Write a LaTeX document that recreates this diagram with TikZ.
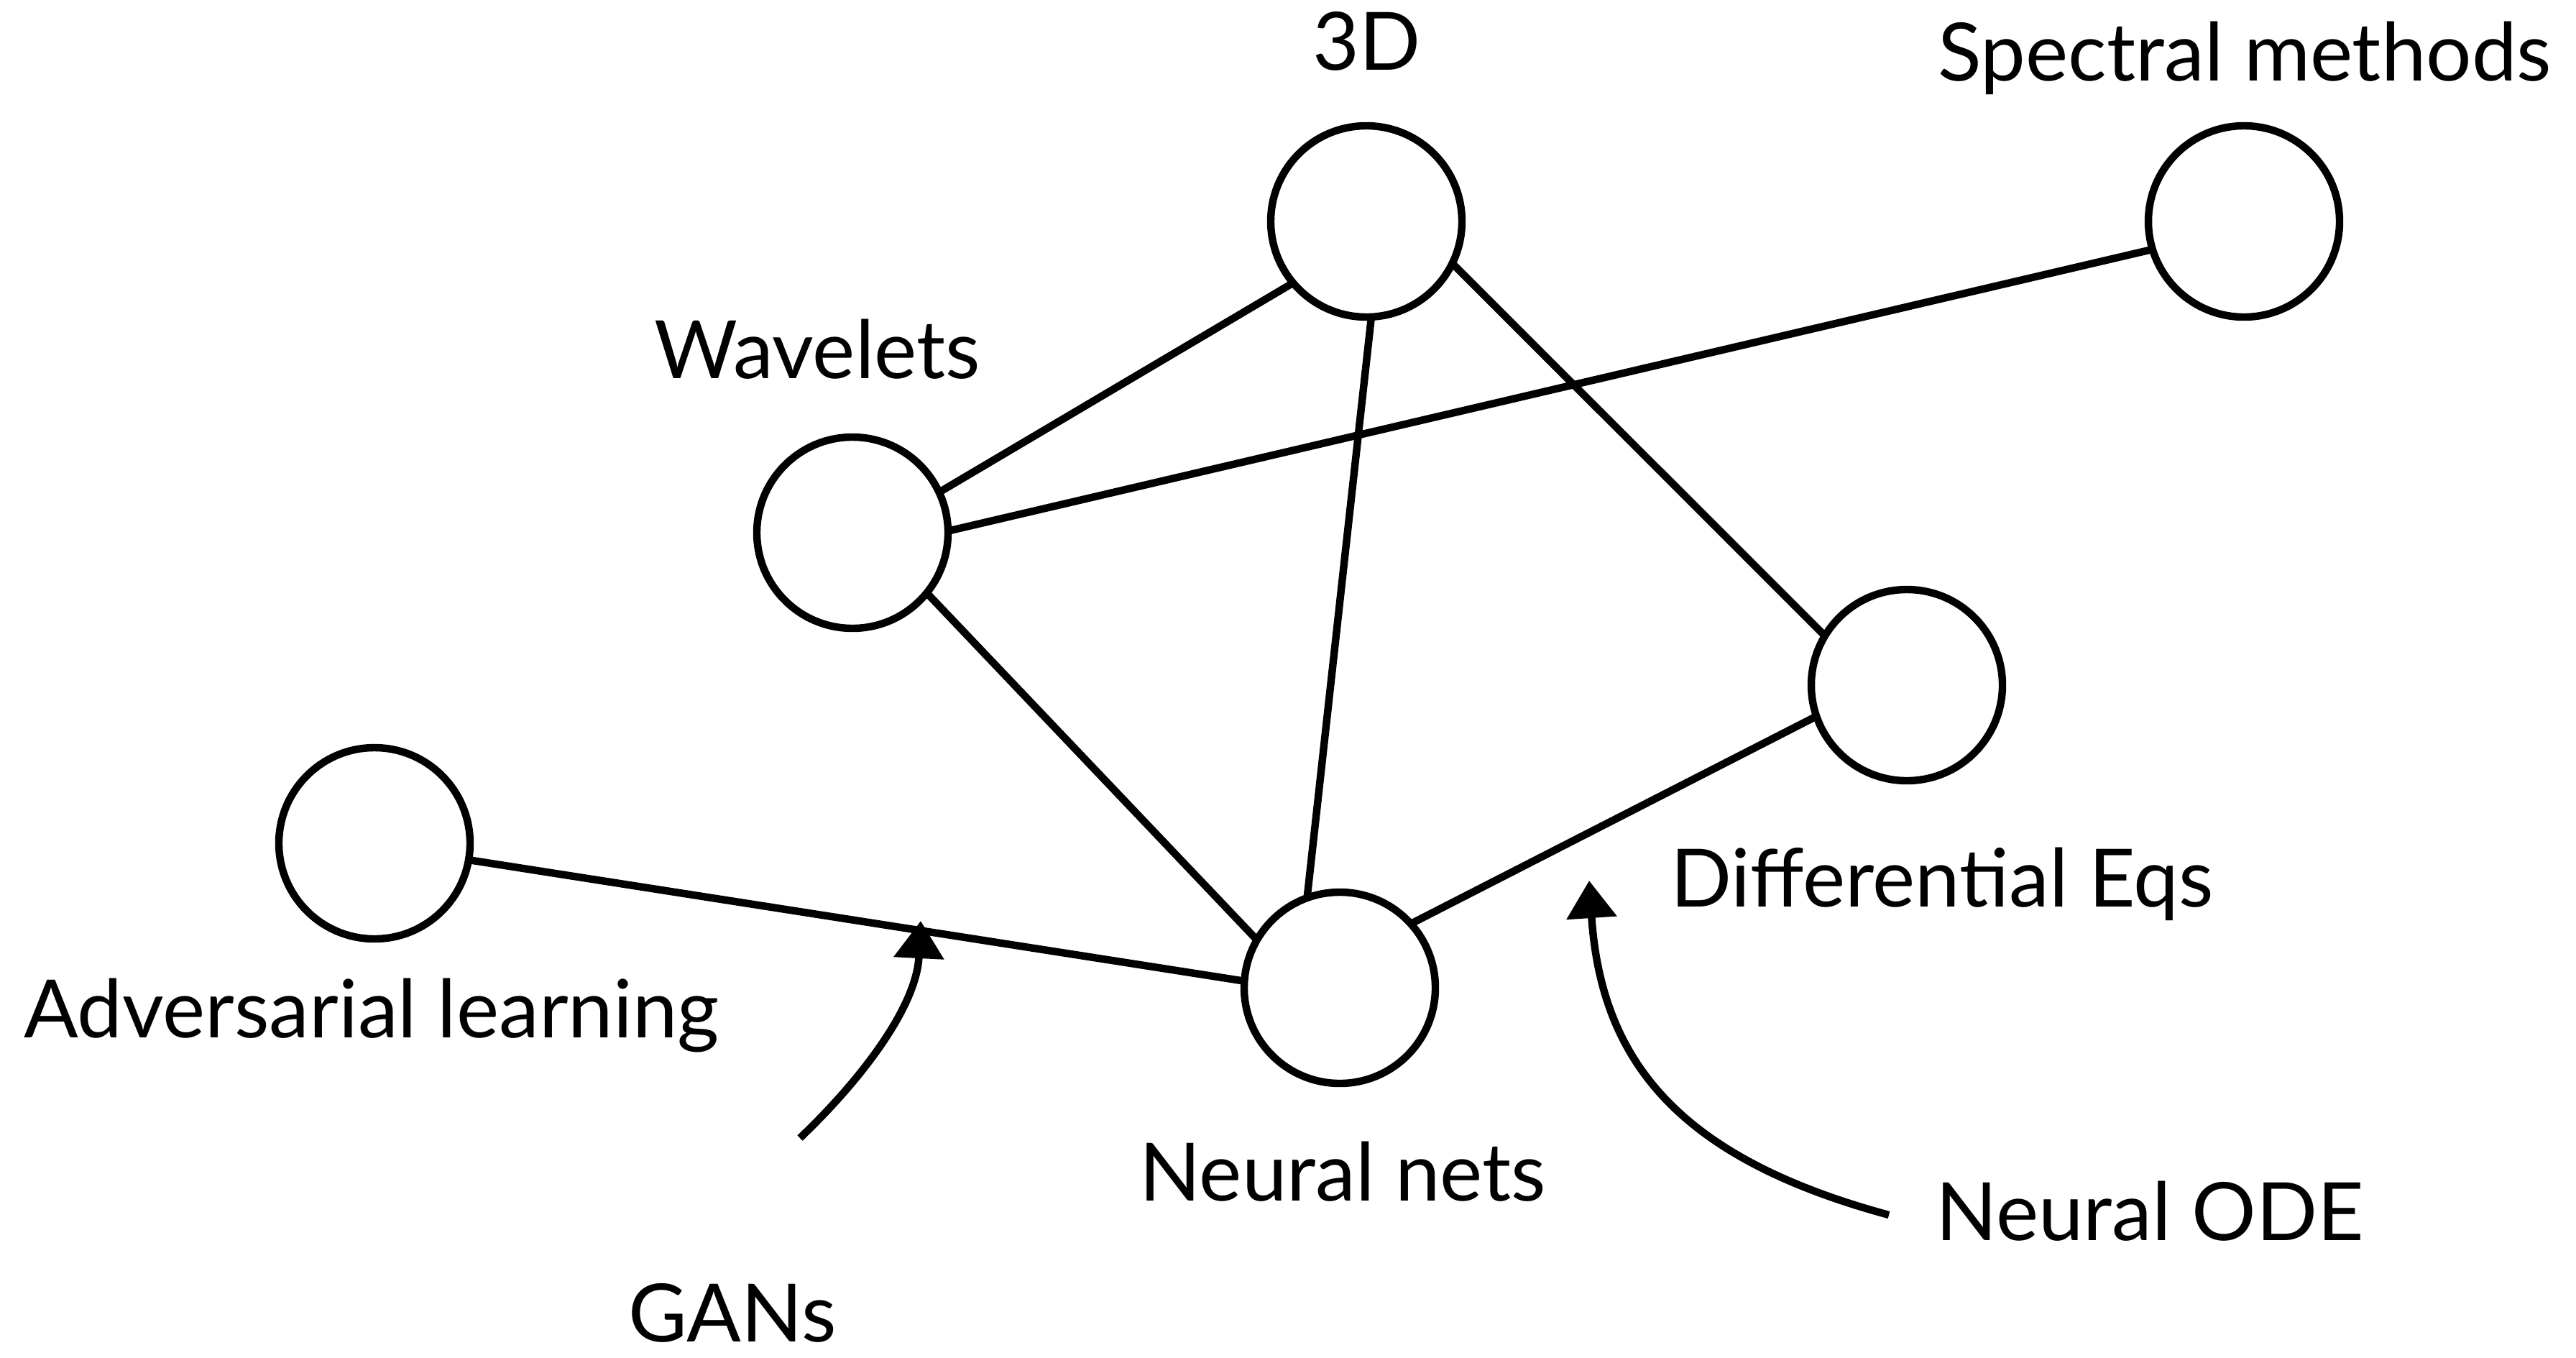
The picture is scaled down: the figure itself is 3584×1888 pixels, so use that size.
\documentclass[tikz,border=0pt]{standalone}
\usepackage{fontspec}
\setmainfont{Lato}
\usetikzlibrary{arrows.meta}
\begin{document}
\begin{tikzpicture}[x=0.25pt,y=-0.25pt,
  topic/.style={circle, draw, line width=2.6pt, minimum size=66.5pt, inner sep=0pt, outer sep=0pt},
  edge/.style={line width=2.6pt},
  lbl/.style={anchor=base, inner sep=0pt, font=\fontsize{28}{34}\selectfont},
  pointer/.style={line width=2.6pt, -{Triangle[length=13pt,width=17pt]}}]
\useasboundingbox (0,0) rectangle (3584,1888);
% circles
\node[topic] (td)   at (1901,308)  {};
\node[topic] (spec) at (3122,308)  {};
\node[topic] (wav)  at (1186,741)  {};
\node[topic] (diff) at (2653,953)  {};
\node[topic] (adv)  at (521,1173)  {};
\node[topic] (nn)   at (1864,1374) {};
% labels
\node[lbl] (ltd)   at (1902,97)   {3D};
\node[lbl] (lspec) at (3123,112)  {Spectral methods};
\node[lbl] (lwav)  at (1137,526)  {Wavelets};
\node[lbl] (ldiff) at (2702,1261) {Differential Eqs};
\node[lbl] (ladv)  at (517,1443)  {Adversarial learning};
\node[lbl] (lnn)   at (1868,1670) {Neural nets};
\node[lbl] (lgan)  at (1019,1866) {GANs};
\node[lbl] (lode)  at (2991,1725) {Neural ODE};
% edges
\draw[edge] (wav.25.1)   -- (td.220.6);
\draw[edge] (wav.1.2)    -- (spec.197.8);
\draw[edge] (wav.-39.8)  -- (nn.150.3);
\draw[edge] (td.-87.5)   -- (nn.110.9);
\draw[edge] (td.-26.9)   -- (diff.149);
\draw[edge] (diff.199.9) -- (nn.42.6);
\draw[edge] (adv.-10.6)  -- (nn.176.6);
% pointers
\coordinate (gantail) at (1113,1583);
\coordinate (gantip)  at (1281,1281);
\coordinate (odetail) at (2628,1690);
\coordinate (odetip)  at (2211,1225);
\draw[pointer] (gantail) .. controls (1200,1500) and (1275,1400) .. (gantip);
\draw[pointer] (odetail) .. controls (2340,1612) and (2228,1480) .. (odetip);
\end{tikzpicture}
\end{document}
